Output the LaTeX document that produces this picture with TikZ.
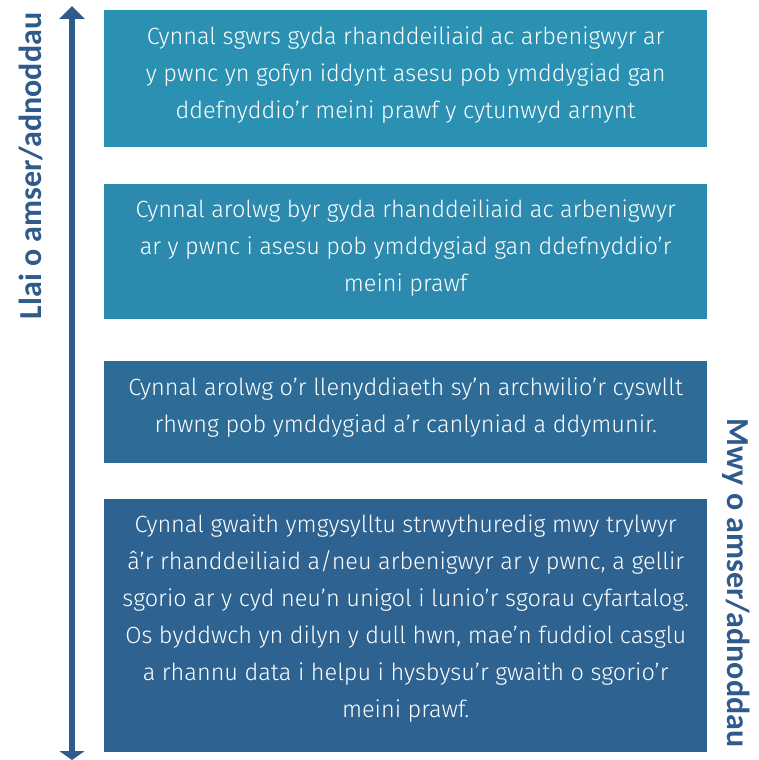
\documentclass[tikz,border=0pt]{standalone}
\usepackage{fontspec}
\setmainfont{Fira Sans Light}
\newfontfamily\labelfont{Carlito}
\usetikzlibrary{arrows.meta}
\definecolor{boxA}{HTML}{2A91B2}
\definecolor{boxB}{HTML}{2B8AAE}
\definecolor{boxC}{HTML}{2C6C97}
\definecolor{boxD}{HTML}{2E6290}
\definecolor{arrowc}{HTML}{2F5A8C}
\tikzset{
  stepbox/.style={minimum width=603pt, inner sep=0pt, anchor=north west},
  boxtext/.style={text=white, align=center, inner sep=0pt,
    font=\fontsize{23.5}{37}\selectfont},
  sidelabel/.style={text=arrowc, font=\labelfont\bfseries\fontsize{32}{36}\selectfont, inner sep=0pt},
}
\begin{document}
\begin{tikzpicture}[x=1pt,y=-1pt]
\useasboundingbox (0,0) rectangle (758,760);
\node[stepbox, fill=boxA, minimum height=137pt] (b1) at (104,10) {};
\node[stepbox, fill=boxB, minimum height=135pt] (b2) at (104,184) {};
\node[stepbox, fill=boxC, minimum height=102pt] (b3) at (104,361) {};
\node[stepbox, fill=boxD, minimum height=253pt] (b4) at (104,499) {};
\node[boxtext] (t1) at ([yshift=3.5pt]b1.center) {Cynnal sgwrs gyda rhanddeiliaid ac arbenigwyr ar\\y pwnc yn gofyn iddynt asesu pob ymddygiad gan\\ddefnyddio’r meini prawf y cytunwyd arnynt};
\node[boxtext] (t2) at ([yshift=3.5pt]b2.center) {Cynnal arolwg byr gyda rhanddeiliaid ac arbenigwyr\\ar y pwnc i asesu pob ymddygiad gan ddefnyddio’r\\meini prawf};
\node[boxtext] (t3) at ([yshift=5pt]b3.center) {Cynnal arolwg o’r llenyddiaeth sy’n archwilio’r cyswllt\\rhwng pob ymddygiad a’r canlyniad a ddymunir.};
\node[boxtext] (t4) at ([yshift=7pt]b4.center) {Cynnal gwaith ymgysylltu strwythuredig mwy trylwyr\\â’r rhanddeiliaid a/neu arbenigwyr ar y pwnc, a gellir\\sgorio ar y cyd neu’n unigol i lunio’r sgorau cyfartalog.\\Os byddwch yn dilyn y dull hwn, mae’n fuddiol casglu\\a rhannu data i helpu i hysbysu’r gwaith o sgorio’r\\meini prawf.};
\coordinate (top) at (72,6);
\coordinate (bot) at (72,760);
\draw[arrowc, line width=6pt, {Triangle[width=25pt,length=13pt]}-{Triangle[width=25pt,length=9pt]}] (top) -- (bot);
\node[sidelabel, rotate=90] (less) at (31,166) {Llai o amser/adnoddau};
\node[sidelabel, rotate=-90] (more) at (736,583) {Mwy o amser/adnoddau};
\end{tikzpicture}
\end{document}
